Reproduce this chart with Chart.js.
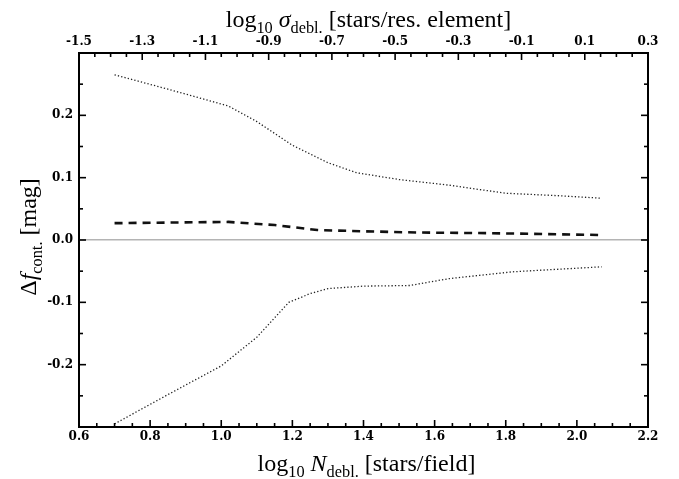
<!DOCTYPE html>
<html>
<head>
<meta charset="utf-8">
<script src="https://cdn.jsdelivr.net/npm/chart.js@4/dist/chart.umd.min.js"></script>
<style>
  body { margin: 0; background: #fff; }
  canvas { display: block; }
</style>
</head>
<body>
<canvas id="chart" width="679" height="479"></canvas>
<script>
// values
const upperX = [0.70, 0.85, 1.02, 1.10, 1.20, 1.30, 1.38, 1.50, 1.64, 1.80, 1.95, 2.07];
const upperY = [0.265, 0.242, 0.215, 0.190, 0.152, 0.124, 0.108, 0.097, 0.088, 0.075, 0.071, 0.067];

const lowerX = [0.70, 0.85, 1.00, 1.10, 1.19, 1.25, 1.30, 1.40, 1.53, 1.64, 1.82, 2.07];
const lowerY = [-0.295, -0.248, -0.202, -0.156, -0.100, -0.086, -0.078, -0.074, -0.073, -0.062, -0.051, -0.043];

const medianX = [0.70, 0.85, 1.02, 1.15, 1.27, 1.40, 1.55, 1.75, 2.07];
const medianY = [0.027, 0.028, 0.029, 0.024, 0.016, 0.014, 0.012, 0.011, 0.008];

const xRange = [0.6, 2.2];
const x2Range = [-1.5, 0.3];
const yRange = [-0.3, 0.3];

function toPoints(xs, ys) {
    return xs.map((x, i) => ({ x: x, y: ys[i] }));
}

function isMult(v, step, origin) {
    const k = (v - origin) / step;
    return Math.abs(k - Math.round(k)) < 1e-6;
}

const tickFont = { family: 'DejaVu Serif', size: 12, weight: 'bold' };
const titleFamily = 'Liberation Serif';

// rich text: pieces of {t, it, sub}
function drawRich(ctx, parts, cx, cy, size) {
    const fontFor = p => (p.it ? 'italic ' : '') + (p.sub ? size * 0.68 : size) + 'px "' + titleFamily + '"';
    let total = 0;
    parts.forEach(p => { ctx.font = fontFor(p); p.w = ctx.measureText(p.t).width; total += p.w; });
    let x = cx - total / 2;
    ctx.textBaseline = 'alphabetic';
    ctx.textAlign = 'left';
    parts.forEach(p => {
        ctx.font = fontFor(p);
        ctx.fillText(p.t, x, cy + (p.sub ? size * 0.25 : 0));
        x += p.w;
    });
}

const topTitle = [{ t: 'log' }, { t: '10', sub: true }, { t: ' ' }, { t: 'σ', it: true }, { t: 'debl.', sub: true }, { t: ' [stars/res. element]' }];
const bottomTitle = [{ t: 'log' }, { t: '10', sub: true }, { t: ' ' }, { t: 'N', it: true }, { t: 'debl.', sub: true }, { t: ' [stars/field]' }];
const leftTitle = [{ t: 'Δ' }, { t: 'f', it: true }, { t: 'cont.', sub: true }, { t: ' [mag]' }];

const framePlugin = {
    id: 'frame',
    afterDraw(chart) {
        const ctx = chart.ctx;
        const a = chart.chartArea;
        ctx.save();
        ctx.strokeStyle = '#000';
        ctx.lineWidth = 1.6;
        const tick = (x1, y1, x2, y2) => { ctx.beginPath(); ctx.moveTo(x1, y1); ctx.lineTo(x2, y2); ctx.stroke(); };

        const sx = chart.scales.x;
        sx.ticks.forEach(t => {
            const px = sx.getPixelForValue(t.value);
            const len = isMult(t.value, 0.2, 0.6) ? 7 : 4;
            tick(px, a.bottom, px, a.bottom - len);
        });
        const sx2 = chart.scales.x2;
        sx2.ticks.forEach(t => {
            const px = sx2.getPixelForValue(t.value);
            const len = isMult(t.value, 0.2, -1.5) ? 7 : 4;
            tick(px, a.top, px, a.top + len);
        });
        const sy = chart.scales.y;
        sy.ticks.forEach(t => {
            const py = sy.getPixelForValue(t.value);
            const len = isMult(t.value, 0.1, 0) ? 7 : 4;
            tick(a.left, py, a.left + len, py);
            tick(a.right, py, a.right - len, py);
        });

        ctx.lineWidth = 2;
        ctx.strokeRect(a.left, a.top, a.right - a.left, a.bottom - a.top);

        ctx.fillStyle = '#000';
        const cx = (a.left + a.right) / 2;
        drawRich(ctx, topTitle, cx + 5, 27, 24);
        drawRich(ctx, bottomTitle, cx + 3, 471, 24);
        ctx.translate(36, (a.top + a.bottom) / 2 - 3);
        ctx.rotate(-Math.PI / 2);
        drawRich(ctx, leftTitle, 0, 0, 24);
        ctx.restore();
    }
};

new Chart(document.getElementById('chart'), {
    type: 'line',
    data: {
        datasets: [
            {
                data: toPoints(upperX, upperY),
                borderColor: '#222',
                borderWidth: 1.3,
                borderDash: [1.3, 2.1],
                pointRadius: 0,
                fill: false,
                tension: 0
            },
            {
                data: toPoints(lowerX, lowerY),
                borderColor: '#222',
                borderWidth: 1.3,
                borderDash: [1.3, 2.1],
                pointRadius: 0,
                fill: false,
                tension: 0
            },
            {
                data: toPoints(medianX, medianY),
                borderColor: '#111',
                borderWidth: 2.6,
                borderDash: [8, 6],
                pointRadius: 0,
                fill: false,
                tension: 0
            }
        ]
    },
    plugins: [framePlugin],
    options: {
        responsive: false,
        animation: false,
        devicePixelRatio: 1,
        layout: { padding: { left: 0, right: 31, top: 0, bottom: 0 } },
        plugins: { legend: { display: false }, tooltip: { enabled: false } },
        scales: {
            x: {
                type: 'linear',
                position: 'bottom',
                min: xRange[0],
                max: xRange[1],
                grid: { display: false, drawTicks: false },
                border: { display: false },
                ticks: {
                    stepSize: 0.05,
                    autoSkip: false,
                    maxRotation: 0,
                    padding: 3,
                    color: '#000',
                    font: tickFont,
                    callback: v => isMult(v, 0.2, 0.6) ? v.toFixed(1) : ''
                },
                afterFit: s => { s.height = 52; }
            },
            x2: {
                type: 'linear',
                position: 'top',
                min: x2Range[0],
                max: x2Range[1],
                grid: { display: false, drawTicks: false },
                border: { display: false },
                ticks: {
                    stepSize: 0.05,
                    autoSkip: false,
                    maxRotation: 0,
                    padding: 4,
                    color: '#000',
                    font: tickFont,
                    callback: v => isMult(v, 0.2, -1.5) ? v.toFixed(1) : ''
                },
                afterFit: s => { s.height = 53; }
            },
            y: {
                type: 'linear',
                min: yRange[0],
                max: yRange[1],
                grid: {
                    drawTicks: false,
                    lineWidth: 1.4,
                    color: c => Math.abs(c.tick.value) < 1e-9 ? '#b4b4b4' : 'rgba(0,0,0,0)'
                },
                border: { display: false },
                ticks: {
                    stepSize: 0.05,
                    autoSkip: false,
                    padding: 6,
                    color: '#000',
                    font: tickFont,
                    callback: v => (isMult(v, 0.1, 0) && Math.abs(v) < 0.25) ? v.toFixed(1) : ''
                },
                afterFit: s => { s.height = s.height; s.width = 79; }
            }
        }
    }
});
</script>
</body>
</html>
